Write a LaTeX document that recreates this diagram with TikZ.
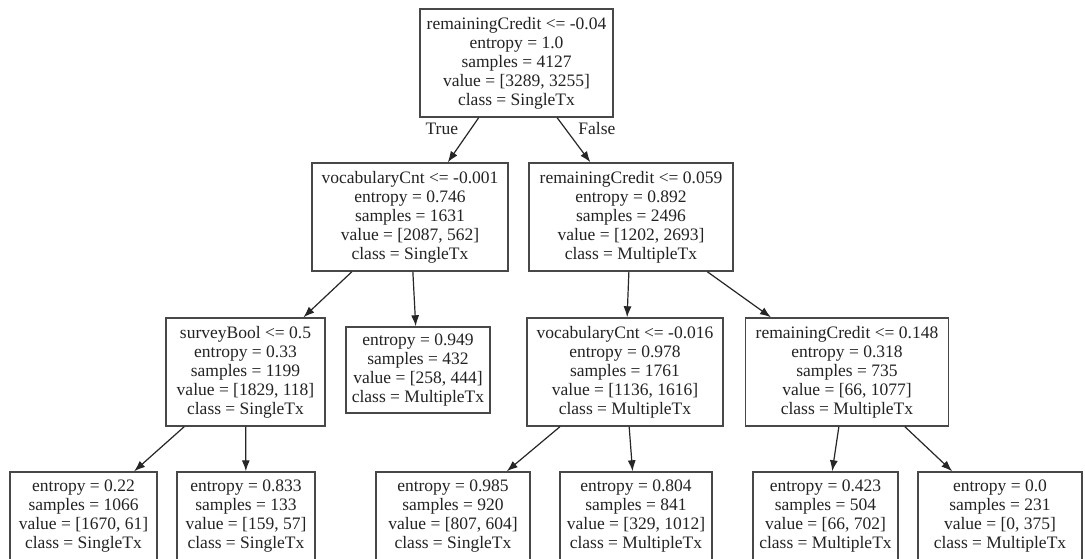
\documentclass[tikz,border=0pt]{standalone}
\usepackage{fontspec}
\setmainfont{Liberation Serif}
\usepackage{tikz}
\usetikzlibrary{arrows.meta}
\definecolor{myline}{RGB}{72, 72, 72}
\definecolor{mytext}{RGB}{35, 35, 35}
\tikzset{>={Latex[length=11pt,width=8pt]}}
\tikzset{
  treebox/.style = {draw=myline, line width=1.4pt, align=center, inner sep=0pt, text=mytext},
  splitbox/.style = {treebox, minimum height=108pt},
  leafbox/.style = {treebox, minimum height=89pt},
  branch/.style = {->, line width=1.2pt, black!85}
}

\begin{document}
\begin{tikzpicture}[x=1pt, y=-1pt, font=\fontsize{17.5}{19}\selectfont]
\useasboundingbox[fill=white] (0,0) rectangle (1085,559);

\node[splitbox, minimum width=193pt] (root) at (516.5, 63) {remainingCredit <= -0.04\\entropy = 1.0\\samples = 4127\\value = [3289, 3255]\\class = SingleTx};

\node[splitbox, minimum width=196pt] (vocabA) at (410, 217) {vocabularyCnt <= -0.001\\entropy = 0.746\\samples = 1631\\value = [2087, 562]\\class = SingleTx};
\node[splitbox, minimum width=204pt] (creditA) at (631, 217) {remainingCredit <= 0.059\\entropy = 0.892\\samples = 2496\\value = [1202, 2693]\\class = MultipleTx};

\node[splitbox, minimum width=159pt] (survey) at (245.5, 372) {surveyBool <= 0.5\\entropy = 0.33\\samples = 1199\\value = [1829, 118]\\class = SingleTx};
\node[leafbox, minimum height=86pt, minimum width=144pt] (leafA) at (418, 370) {entropy = 0.949\\samples = 432\\value = [258, 444]\\class = MultipleTx};
\node[splitbox, minimum width=196pt] (vocabB) at (625, 372) {vocabularyCnt <= -0.016\\entropy = 0.978\\samples = 1761\\value = [1136, 1616]\\class = MultipleTx};
\node[splitbox, minimum width=203pt] (creditB) at (847, 372) {remainingCredit <= 0.148\\entropy = 0.318\\samples = 735\\value = [66, 1077]\\class = MultipleTx};

\node[leafbox, minimum width=147pt] (leafB) at (83.5, 516.5) {entropy = 0.22\\samples = 1066\\value = [1670, 61]\\class = SingleTx};
\node[leafbox, minimum width=138pt] (leafC) at (246, 516.5) {entropy = 0.833\\samples = 133\\value = [159, 57]\\class = SingleTx};
\node[leafbox, minimum width=154pt] (leafD) at (453, 516.5) {entropy = 0.985\\samples = 920\\value = [807, 604]\\class = SingleTx};
\node[leafbox, minimum width=152pt] (leafE) at (636, 516.5) {entropy = 0.804\\samples = 841\\value = [329, 1012]\\class = MultipleTx};
\node[leafbox, minimum width=145pt] (leafF) at (825.5, 516.5) {entropy = 0.423\\samples = 504\\value = [66, 702]\\class = MultipleTx};
\node[leafbox, minimum width=164pt] (leafG) at (1000, 516.5) {entropy = 0.0\\samples = 231\\value = [0, 375]\\class = MultipleTx};

\draw[branch] (root) -- node[pos=0.25, left=9pt, text=mytext] {True} (vocabA);
\draw[branch] (root) -- node[pos=0.25, right=9pt, text=mytext] {False} (creditA);
\draw[branch] (vocabA) -- (survey);
\draw[branch] (vocabA) -- (leafA);
\draw[branch] (creditA) -- (vocabB);
\draw[branch] (creditA) -- (creditB);
\draw[branch] (survey) -- (leafB);
\draw[branch] (survey) -- (leafC);
\draw[branch] (vocabB) -- (leafD);
\draw[branch] (vocabB) -- (leafE);
\draw[branch] (creditB) -- (leafF);
\draw[branch] (creditB) -- (leafG);

\end{tikzpicture}
\end{document}
